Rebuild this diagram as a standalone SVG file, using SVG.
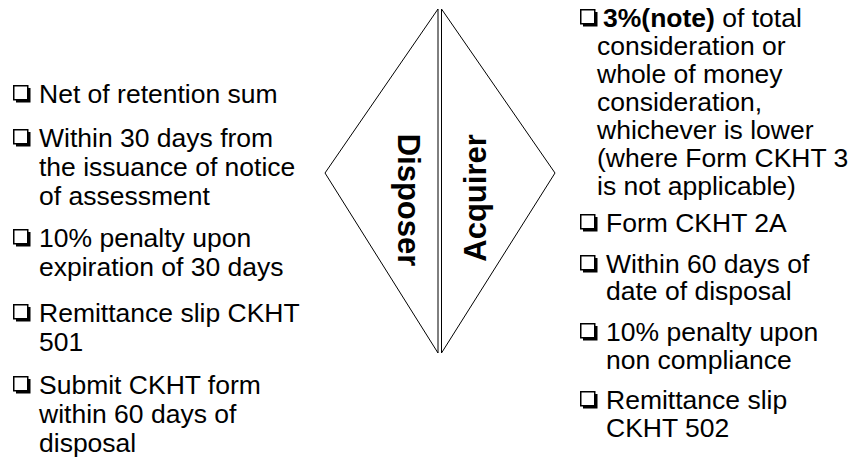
<svg xmlns="http://www.w3.org/2000/svg" xmlns:xlink="http://www.w3.org/1999/xlink" width="862" height="460" viewBox="0 0 862 460">
  <style>
    .item { font-family: "Liberation Sans", Arial, sans-serif; font-size: 26.5px; fill: #000; }
    .item-r { font-family: "Liberation Sans", Arial, sans-serif; font-size: 26.5px; fill: #000; }
    .role { font-family: "Liberation Sans", Arial, sans-serif; font-size: 31px; font-weight: bold; fill: #000; }
    .tri { fill: #fff; stroke: #000; stroke-width: 1; }
    .b { font-weight: bold; }
  </style>
  <defs>
    <!-- shadowed check box used as the bullet mark -->
    <symbol id="box" overflow="visible">
      <rect x="3" y="3" width="14.5" height="14.5" fill="#000"/>
      <rect x="0.75" y="0.75" width="14" height="14" fill="#fff" stroke="#000" stroke-width="1.5"/>
    </symbol>
  </defs>

  <rect width="862" height="460" fill="#fff"/>

  <!-- left half of the diamond -->
  <g id="disposer">
    <polygon class="tri" points="438,9 325,173 438,353"/>
    <text class="role" text-anchor="middle" transform="translate(398,200) rotate(90)">Disposer</text>
  </g>

  <!-- right half of the diamond -->
  <g id="acquirer">
    <polygon class="tri" points="441.5,9 555,173 441.5,353"/>
    <text class="role" text-anchor="middle" transform="translate(486,198) rotate(-90)">Acquirer</text>
  </g>

  <!-- duties of the disposer -->
  <g id="disposer-list" class="item">
    <use xlink:href="#box" x="13" y="85"/>
    <text x="39" y="103">Net of retention sum</text>
    <use xlink:href="#box" x="13" y="129"/>
    <text x="39" y="147">Within 30 days from</text>
    <text x="39" y="176">the issuance of notice</text>
    <text x="39" y="205">of assessment</text>
    <use xlink:href="#box" x="13" y="229"/>
    <text x="39" y="247">10% penalty upon</text>
    <text x="39" y="276">expiration of 30 days</text>
    <use xlink:href="#box" x="13" y="304"/>
    <text x="39" y="322">Remittance slip CKHT</text>
    <text x="39" y="351">501</text>
    <use xlink:href="#box" x="13" y="376"/>
    <text x="39" y="394">Submit CKHT form</text>
    <text x="39" y="423">within 60 days of</text>
    <text x="39" y="452">disposal</text>
  </g>

  <!-- duties of the acquirer -->
  <g id="acquirer-list" class="item-r">
    <use xlink:href="#box" x="580" y="9"/>
    <text x="603" y="27"><tspan class="b">3%(note)</tspan> of total</text>
    <text x="597" y="55">consideration or</text>
    <text x="597" y="83">whole of money</text>
    <text x="597" y="111">consideration,</text>
    <text x="597" y="139">whichever is lower</text>
    <text x="597" y="167">(where Form CKHT 3</text>
    <text x="597" y="195">is not applicable)</text>
    <use xlink:href="#box" x="580" y="214"/>
    <text x="606" y="232">Form CKHT 2A</text>
    <use xlink:href="#box" x="580" y="255"/>
    <text x="606" y="273">Within 60 days of</text>
    <text x="606" y="300">date of disposal</text>
    <use xlink:href="#box" x="580" y="323"/>
    <text x="606" y="341">10% penalty upon</text>
    <text x="606" y="369">non compliance</text>
    <use xlink:href="#box" x="580" y="391"/>
    <text x="606" y="409">Remittance slip</text>
    <text x="606" y="437">CKHT 502</text>
  </g>
</svg>
